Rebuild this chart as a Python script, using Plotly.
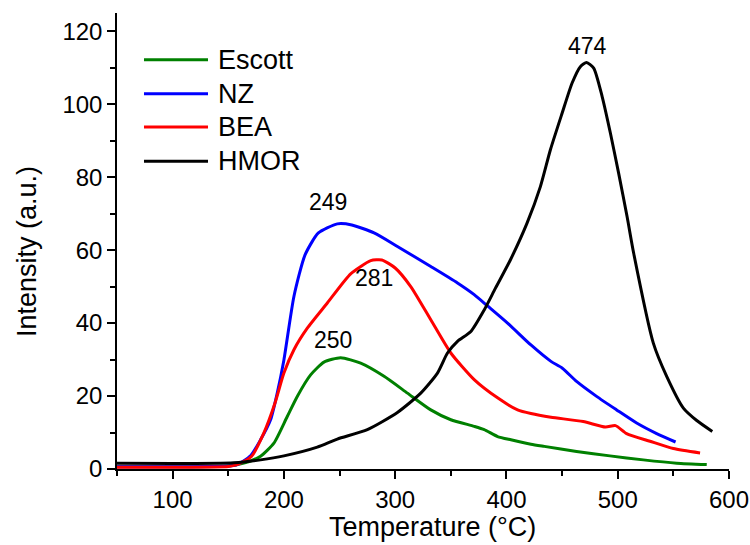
import plotly.graph_objects as go

# ---- data ----
escott_x = [50, 100, 150, 164, 179, 191, 203, 212, 224, 236, 251, 269, 290, 311, 332, 350, 371, 380, 392, 404, 422, 434, 463, 493, 523, 553, 580]
escott_y = [0.6, 0.6, 0.8, 1.6, 3.5, 7.1, 14.4, 19.9, 25.8, 29.3, 30.5, 29.0, 25.4, 20.8, 16.2, 13.5, 11.7, 10.8, 8.9, 8.0, 6.8, 6.2, 4.8, 3.6, 2.5, 1.6, 1.2]

nz_x = [50, 100, 150, 158, 170, 179, 188, 194, 200, 209, 219, 231, 248, 261, 281, 302, 332, 356, 371, 383, 401, 422, 440, 450, 463, 481, 499, 517, 535, 552]
nz_y = [0.6, 0.6, 0.8, 1.2, 3.6, 8.0, 13.5, 20.8, 29.9, 47.3, 58.7, 64.7, 67.2, 66.9, 64.7, 61.0, 55.5, 51.0, 47.8, 44.7, 40.0, 34.0, 29.5, 27.7, 24.0, 19.9, 16.2, 12.6, 9.7, 7.4]

bea_x = [50, 100, 150, 158, 171, 182, 192, 200, 209, 221, 239, 260, 278, 288, 300, 314, 332, 350, 371, 392, 410, 422, 440, 469, 489, 498, 508, 529, 550, 574]
bea_y = [0.5, 0.5, 0.7, 1.2, 3.5, 9.9, 18.1, 26.3, 32.7, 38.6, 45.5, 53.5, 57.1, 57.3, 55.1, 50.0, 40.9, 31.8, 24.5, 19.5, 16.2, 15.2, 14.2, 13.0, 11.5, 11.9, 9.7, 7.6, 5.6, 4.4]

hmor_x = [50, 100, 155, 179, 200, 230, 248, 275, 302, 323, 338, 347, 356, 368, 380, 390, 403.5, 418.5, 430.5, 439.5, 450, 459, 466.4, 472, 478.4, 486, 493.4, 500.8, 508.4, 514.3, 532, 544, 559, 571, 585]
hmor_y = [1.6, 1.5, 1.7, 2.5, 3.6, 6.0, 8.2, 10.8, 15.5, 20.8, 26.3, 31.8, 35.0, 37.7, 43.6, 49.5, 57.3, 67.4, 77.4, 87.5, 97.5, 105.8, 110.3, 111.4, 109.9, 102.1, 92.1, 81.1, 69.2, 59.2, 34.5, 25.4, 16.7, 13.3, 10.3]

series_names = ["Escott", "NZ", "BEA", "HMOR"]
series_colors = ["#008000", "#0000FF", "#FF0000", "#000000"]
series_x = [escott_x, nz_x, bea_x, hmor_x]
series_y = [escott_y, nz_y, bea_y, hmor_y]

peak_labels = ["250", "249", "281", "474"]
peak_x = [244.4, 239.9, 281.3, 472.4]
peak_y = [35.4, 73.2, 52.3, 116.0]

x_ticks = [100, 200, 300, 400, 500, 600]
y_ticks = [0, 20, 40, 60, 80, 100, 120]

FONT = "Liberation Sans, Arial, sans-serif"

fig = go.Figure()
for name, col, xs, ys in zip(series_names, series_colors, series_x, series_y):
    fig.add_trace(go.Scatter(x=xs, y=ys, mode="lines", name=name,
                             line=dict(color=col, width=3, shape="spline", smoothing=0.6),
                             showlegend=False))

# peak labels
for t, px, py in zip(peak_labels, peak_x, peak_y):
    fig.add_annotation(x=px, y=py, text=t, showarrow=False, xref="x", yref="y",
                       font=dict(family=FONT, size=23, color="black"),
                       xanchor="center", yanchor="middle")

# manual legend (long line keys like the reference)
leg_y = [0.8976, 0.823, 0.75, 0.675]
for name, col, ly in zip(series_names, series_colors, leg_y):
    fig.add_shape(type="line", xref="paper", yref="paper", x0=0.0441, x1=0.1487,
                  y0=ly, y1=ly, line=dict(color=col, width=3))
    fig.add_annotation(xref="paper", yref="paper", x=0.1618, y=ly, text=name,
                       showarrow=False, xanchor="left", yanchor="middle",
                       font=dict(family=FONT, size=27, color="black"))

# axis titles
fig.add_annotation(xref="paper", yref="paper", x=0.516, y=-0.127, text="Temperature (°C)",
                   showarrow=False, xanchor="center", yanchor="middle",
                   font=dict(family=FONT, size=27, color="black"))
fig.add_annotation(xref="paper", yref="paper", x=-0.147, y=0.476, text="Intensity (a.u.)",
                   showarrow=False, xanchor="center", yanchor="middle", textangle=-90,
                   font=dict(family=FONT, size=27, color="black"))

axis_common = dict(showline=True, linecolor="black", linewidth=1.5, ticks="outside",
                   ticklen=8, tickwidth=1.5, tickcolor="black", showgrid=False,
                   zeroline=False, mirror=False, automargin=False,
                   tickfont=dict(family=FONT, size=24, color="black"))

fig.update_xaxes(range=[50, 600], tickvals=x_ticks, ticktext=[str(v) for v in x_ticks],
                 minor=dict(ticks="outside", ticklen=5, tickwidth=1.5, tickcolor="black", dtick=50, tick0=0),
                 **axis_common)
fig.update_yaxes(range=[0, 125], tickvals=y_ticks, ticktext=[str(v) for v in y_ticks],
                 minor=dict(ticks="outside", ticklen=5, tickwidth=1.5, tickcolor="black", dtick=10, tick0=0),
                 **axis_common)

fig.update_layout(width=750, height=545, margin=dict(l=117, r=21, t=13, b=76),
                  paper_bgcolor="white", plot_bgcolor="white")

fig.write_html("out.html")
